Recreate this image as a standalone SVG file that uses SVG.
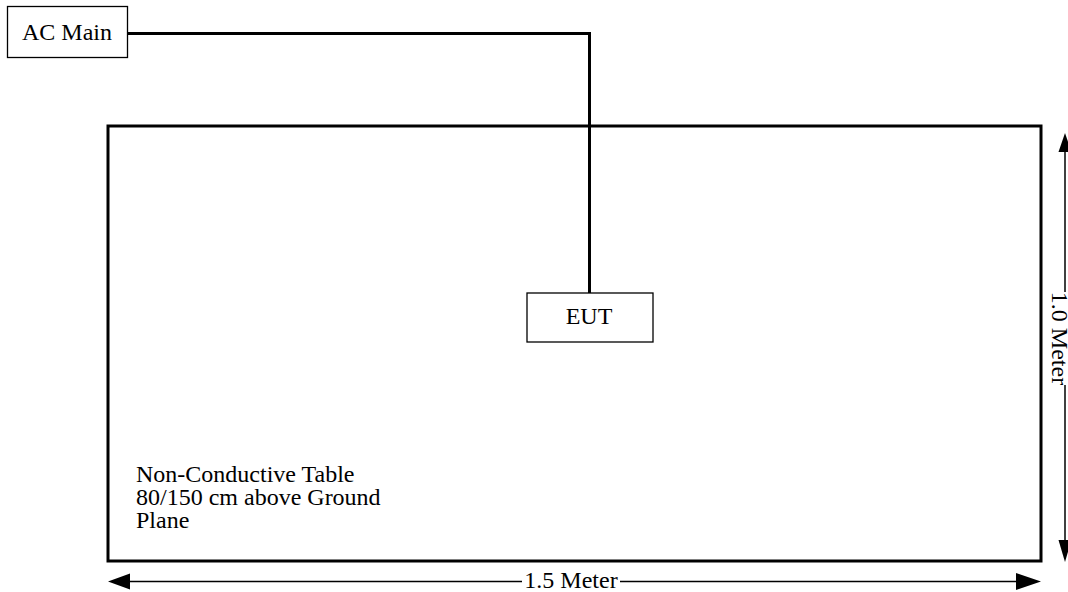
<svg xmlns="http://www.w3.org/2000/svg" width="1068" height="592" viewBox="0 0 1068 592">
<style>
.t{font-family:"Liberation Serif","Times New Roman",serif;font-size:24px;fill:#000}
.box{fill:#fff;stroke:#000;stroke-width:1.3}
.wire{fill:none;stroke:#000;stroke-width:3}
.dim{fill:none;stroke:#000;stroke-width:1.5}
.head{fill:#000}
</style>
<rect width="1068" height="592" fill="#fff"/>
<g id="table">
<rect x="108" y="126" width="933" height="435" fill="none" stroke="#000" stroke-width="3"/>
<text class="t" x="136" y="482">Non-Conductive Table</text>
<text class="t" x="136" y="505">80/150 cm above Ground</text>
<text class="t" x="136" y="528">Plane</text>
</g>
<g id="connectors">
<polyline class="wire" points="128,33.5 589.5,33.5 589.5,293"/>
<line class="dim" x1="128" y1="581.5" x2="522" y2="581.5"/>
<line class="dim" x1="620" y1="581.5" x2="1018" y2="581.5"/>
<polygon class="head" points="108,581.5 130,573.5 130,589.5"/>
<polygon class="head" points="1041,581.5 1016,573 1016,590"/>
<line class="dim" x1="1065" y1="150" x2="1065" y2="292"/>
<line class="dim" x1="1065" y1="385" x2="1065" y2="545"/>
<polygon class="head" points="1065,133 1058.5,152 1071.5,152"/>
<polygon class="head" points="1065,562 1058.5,540 1071.5,540"/>
</g>
<g id="ac-main">
<rect class="box" x="7.5" y="6.5" width="120" height="51"/>
<text class="t" x="67" y="40" text-anchor="middle">AC Main</text>
</g>
<g id="eut">
<rect class="box" x="527" y="293" width="126" height="49"/>
<text class="t" x="589" y="324" text-anchor="middle">EUT</text>
</g>
<g id="dim-labels">
<text class="t" x="571" y="588" text-anchor="middle">1.5 Meter</text>
<text class="t" transform="translate(1052,338.5) rotate(90)" text-anchor="middle">1.0 Meter</text>
</g>
</svg>
